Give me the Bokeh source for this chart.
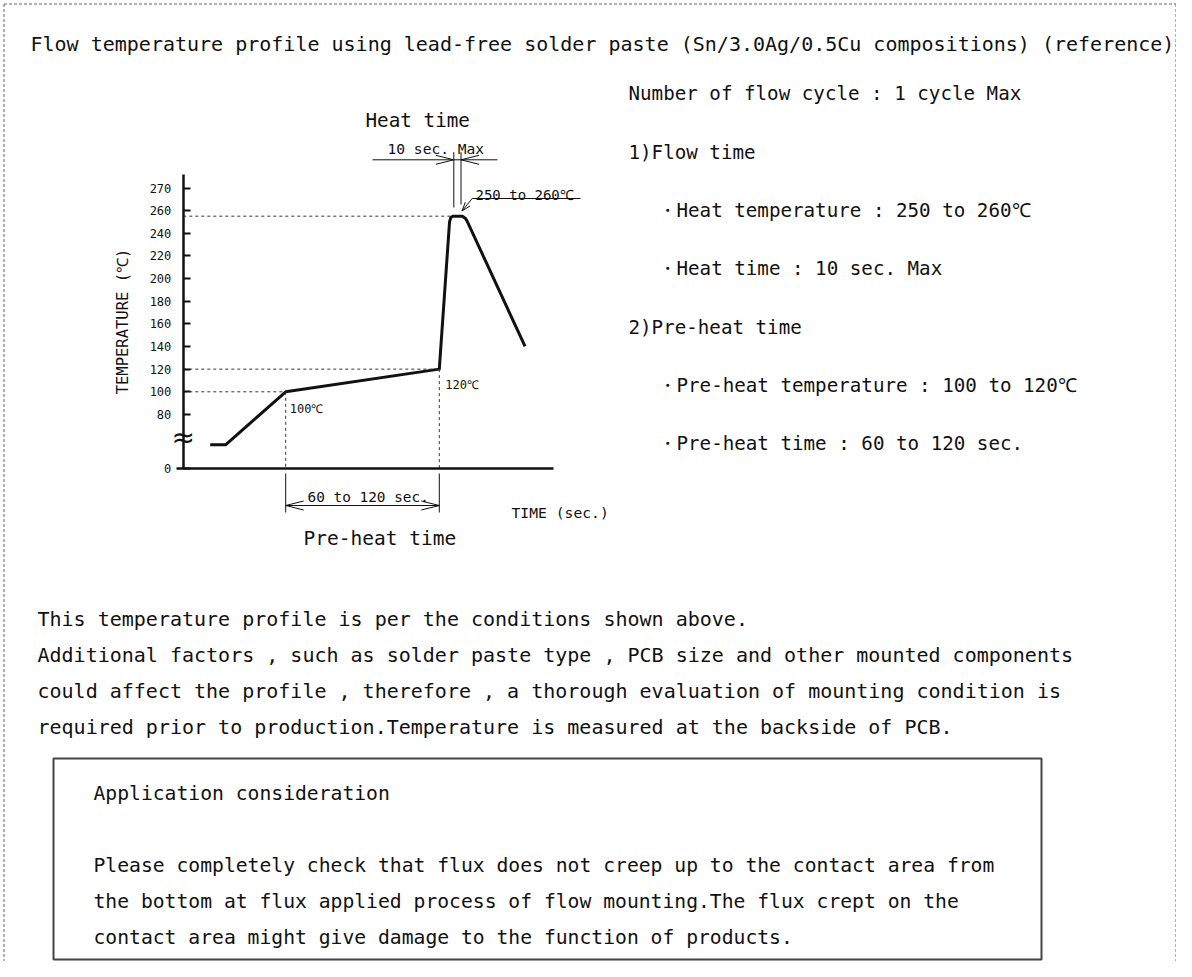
import math
from bokeh.plotting import figure
from bokeh.models import Range1d, LinearAxis, FixedTicker
from bokeh.core.properties import value
from bokeh.embed import file_html
from bokeh.resources import INLINE

# ---------------- data ----------------
title_text = "Flow temperature profile using lead-free solder paste (Sn/3.0Ag/0.5Cu compositions) (reference)"

spec_lines = [
    "Number of flow cycle : 1 cycle Max",
    "1)Flow time",
    "・Heat temperature : 250 to 260℃",
    "・Heat time : 10 sec. Max",
    "2)Pre-heat time",
    "・Pre-heat temperature : 100 to 120℃",
    "・Pre-heat time : 60 to 120 sec.",
]
spec_indent = [False, False, True, True, False, True, True]

note_lines = [
    "This temperature profile is per the conditions shown above.",
    "Additional factors , such as solder paste type , PCB size and other mounted components",
    "could affect the profile , therefore , a thorough evaluation of mounting condition is",
    "required prior to production.Temperature is measured at the backside of PCB.",
]

box_title = "Application consideration"
box_lines = [
    "Please completely check that flux does not creep up to the contact area from",
    "the bottom at flux applied process of flow mounting.The flux crept on the",
    "contact area might give damage to the function of products.",
]

# temperature profile (time in s, temperature in deg C)
time_s = [21, 33, 80, 200, 208, 209, 211, 218, 220.5, 222, 267]
temp_c = [25, 25, 100, 120, 250, 254, 255, 255, 253, 250, 140]

preheat_time = [80, 200]
preheat_temp = [100, 120]
peak_time = 211
peak_temp = 255
point_labels = ["100℃", "120℃"]

tick_values = [0, 80, 100, 120, 140, 160, 180, 200, 220, 240, 260, 270]

y_label = "TEMPERATURE (℃)"
x_label = "TIME (sec.)"
heat_label = "Heat time"
heat_span_label = "10 sec. Max"
peak_label = "250 to 260℃"
preheat_span_label = "60 to 120 sec."
preheat_label = "Pre-heat time"

# ---------------- layout ----------------
W, H = 1176, 961
X0, KX = 182.8, 1.28      # page x of t = 0 s, px per second
Y0, KY = 391.3, 1.133     # page y of 100 deg C, px per deg C
FONT_NAME = "DejaVu Sans Mono"
FONT = value(FONT_NAME)
INK = "#111111"
PITCH = 36                # text line pitch of the lower blocks


def axis_t(t):
    """broken temperature axis: compressed below the break, stretched above 260"""
    if t < 80:
        return 32 + 0.85 * t
    if t > 260:
        return 260 + 1.9 * (t - 260)
    return t


def sx(t):
    return X0 + KX * t


x_lo, x_hi = -X0 / KX, (W - X0) / KX
y_lo, y_hi = 100 - (H - Y0) / KY, 100 + Y0 / KY

p = figure(width=W, height=H, x_range=Range1d(x_lo, x_hi), y_range=Range1d(y_lo, y_hi),
           output_backend="svg", toolbar_location=None, x_axis_location=None,
           y_axis_location=None, min_border=0, outline_line_color=None, title=None)
p.grid.visible = False
p.background_fill_color = "white"
p.border_fill_color = "white"
p.extra_x_ranges = {"px": Range1d(0, W)}
p.extra_y_ranges = {"py": Range1d(H, 0)}
PG = dict(x_range_name="px", y_range_name="py")

# ---------------- axes ----------------
tick_pos = [axis_t(v) for v in tick_values]
yax = LinearAxis(
    fixed_location=0, bounds=(axis_t(0), 292),
    ticker=FixedTicker(ticks=tick_pos, minor_ticks=[]),
    major_label_overrides={pos: str(v) for pos, v in zip(tick_pos, tick_values)},
    axis_label=y_label, axis_label_text_font=FONT_NAME, axis_label_text_font_size="15.5px",
    axis_label_text_font_style="normal", axis_label_standoff=15, axis_label_text_color=INK,
    major_label_text_font=FONT_NAME, major_label_text_font_size="12px", major_label_standoff=12,
    major_label_text_color=INK,
    axis_line_width=2.5, axis_line_color=INK, major_tick_in=7, major_tick_out=0,
    major_tick_line_width=2, major_tick_line_color=INK, minor_tick_line_color=None)
p.add_layout(yax, "left")

xax = LinearAxis(
    fixed_location=axis_t(0), bounds=(-5, 289), ticker=FixedTicker(ticks=[], minor_ticks=[]),
    axis_line_width=2.5, axis_line_color=INK, major_tick_in=0, major_tick_out=0,
    major_label_text_font_size="0px", minor_tick_line_color=None)
p.add_layout(xax, "below")

# ---------------- profile and guides ----------------
p.line(time_s, [axis_t(v) for v in temp_c], line_width=3, color=INK, line_join="round")

p.multi_line(xs=[[0, preheat_time[0]], [0, preheat_time[1]], [0, peak_time]],
             ys=[[axis_t(preheat_temp[0])] * 2, [axis_t(preheat_temp[1])] * 2, [axis_t(peak_temp)] * 2],
             line_dash="3 3", line_width=1, color="#333333")
p.multi_line(xs=[[t, t] for t in preheat_time],
             ys=[[axis_t(v), axis_t(0)] for v in preheat_temp],
             line_dash="3 3", line_width=1, color="#333333")

p.text(x=preheat_time, y=[axis_t(v) for v in preheat_temp], text=point_labels,
       x_offset=[4, 6], y_offset=[17, 16], text_baseline="alphabetic", text_align="left",
       text_font=FONT, text_font_size="12px", text_color=INK)

# break mark on the temperature axis
p.text(x=[X0], y=[436.5], text=["≈"], text_align="center", text_baseline="middle",
       text_font=value("DejaVu Sans"), text_font_size="28px", text_color=INK, **PG)


# ---------------- dimension lines ----------------
def head(tipx, tipy, dx, dy, L=18, hw=4.5):
    n = math.hypot(dx, dy)
    ux, uy = dx / n, dy / n
    bx, by = tipx - ux * L, tipy - uy * L
    ox, oy = -uy * hw, ux * hw
    return [bx + ox, tipx, bx - ox], [by + oy, tipy, by - oy]


hx = [453.3, 460.5]
dim_xs = [[372, 497], [hx[0], hx[0]], [hx[1], hx[1]], [471.7, 580], [471.7, 461.5]]
dim_ys = [[159.3, 159.3], [151.7, 207], [151.7, 204], [198, 198], [198, 210.5]]
for hd in (head(hx[0], 159.3, 1, 0), head(hx[1], 159.3, -1, 0), head(461.5, 210.5, -10.2, 12.5, L=9, hw=3)):
    dim_xs.append(hd[0])
    dim_ys.append(hd[1])

a, b = sx(preheat_time[0]), sx(preheat_time[1])
dim_xs += [[a, a], [b, b], [a, b]]
dim_ys += [[473, 512], [473, 512], [505, 505]]
for hd in (head(a, 505, -1, 0), head(b, 505, 1, 0)):
    dim_xs.append(hd[0])
    dim_ys.append(hd[1])
p.multi_line(xs=dim_xs, ys=dim_ys, line_width=1, color=INK, **PG)

chart_texts = [heat_label, heat_span_label, peak_label, preheat_span_label, preheat_label, x_label]
chart_tx = [365, 387, 475, 307, 303, 511]
chart_ty = [120, 148.3, 194, 496, 538.3, 511.7]
chart_ts = ["19.3px", "14.6px", "14px", "14.4px", "19.5px", "14.7px"]
p.text(x=chart_tx, y=chart_ty, text=chart_texts, text_font_size=chart_ts,
       text_font=FONT, text_baseline="alphabetic", text_align="left", text_color=INK, **PG)

# ---------------- page texts ----------------
p.text(x=[30], y=[43], text=[title_text], text_font=FONT, text_font_size="20px",
       text_baseline="alphabetic", text_color=INK, **PG)

p.text(x=[657 if ind else 628 for ind in spec_indent],
       y=[93.3 + 58.3 * i for i in range(len(spec_lines))], text=spec_lines,
       text_font=FONT, text_font_size="19.2px", text_baseline="alphabetic", text_color=INK, **PG)

p.text(x=[37] * len(note_lines), y=[618 + PITCH * i for i in range(len(note_lines))],
       text=note_lines, text_font=FONT, text_font_size="20px", text_baseline="alphabetic",
       text_color=INK, **PG)

p.text(x=[93] * (1 + len(box_lines)),
       y=[793] + [793 + PITCH * (i + 2) for i in range(len(box_lines))],
       text=[box_title] + box_lines, text_font=FONT, text_font_size="19.7px",
       text_baseline="alphabetic", text_color=INK, **PG)

# box and dashed page frame
p.quad(left=[53], right=[1041], top=[758], bottom=[959], fill_color=None,
       line_color="#444444", line_width=2, **PG)
p.multi_line(xs=[[3.5, 1175.5], [3.5, 3.5], [1175.5, 1175.5]],
             ys=[[3.5, 3.5], [3.5, H], [3.5, H]],
             line_dash="3 2", line_width=1, color="#666666", **PG)

open("out.html", "w").write(file_html(p, INLINE))
